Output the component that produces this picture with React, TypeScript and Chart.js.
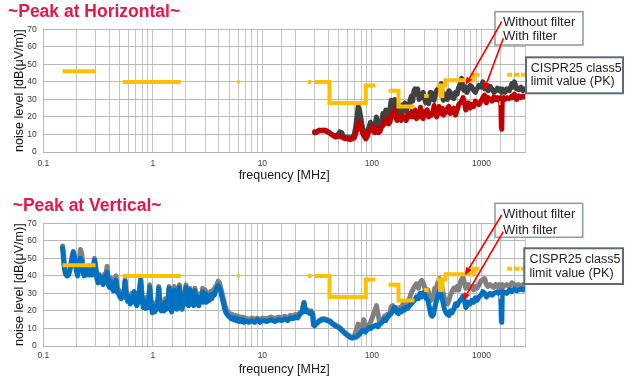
import { useEffect, useRef } from 'react';
import { Chart, registerables } from 'chart.js';

Chart.register(...registerables);

const FONT = '"Liberation Sans", Arial, sans-serif';

// ---------- CISPR25 class 5 limit (PK) ----------
const limFreq = [0.15, 0.3, 0.3, 0.53, 1.8, 1.8, 5.9, 6.2, 6.2, 26, 28, 28,
  30, 41, 41, 88, 88, 108, 108, 142, 175, 175, 245, 245, 300, 330, 330,
  390, 420, 420, 440, 440, 470, 470, 850, 850, 960, 960, 1447, 1494, 1494,
  1720, 1900, 1900, 2000, 2230, 2230, 2300, 2500];
const limLevel = [46, 46, null, 40, 40, null, 40, 40, null, 40, 40, null,
  40, 40, 28, 28, 38, 38, null, 35, 35, 26, 26, null, 32, 32, null,
  38, 38, 32, 32, 38, 38, 41, 41, 44, 44, null, 28, 28, null,
  44, 44, null, 44, 44, null, 44, 44];

// ---------- Peak at Horizontal ----------
const hFreq = [
  30, 31, 33, 35, 37, 39, 41, 43, 45, 47,
  49, 51, 53, 55, 57, 60, 63, 66, 69, 71,
  73, 75, 77, 79, 81, 83, 85, 88, 91, 94,
  97, 100, 103, 106, 110, 114, 118, 122, 126, 130,
  134, 138, 142, 146, 150, 154, 158, 162, 166, 170,
  175, 180, 185, 190, 195, 200, 206, 212, 218, 224,
  230, 236, 242, 248, 255, 262, 270, 278, 286, 294,
  300, 310, 320, 330, 340, 350, 360, 370, 380, 390,
  400, 410, 420, 430, 440, 450, 460, 475, 490, 505,
  520, 540, 560, 580, 600, 620, 640, 660, 680, 700,
  720, 740, 760, 790, 820, 850, 880, 910, 950, 990,
  1030, 1070, 1110, 1150, 1200, 1250, 1300, 1350, 1400, 1450,
  1500, 1520, 1535, 1550, 1600, 1650, 1700, 1800, 1900, 1950,
  2000, 2100, 2200, 2300, 2400, 2500];
const hWithout = [
  11.5, 11, 12, 12.5, 12, 11.5, 11, 10, 9.5, 9,
  10, 11.5, 11, 9, 8, 8.5, 8, 8.5, 10, 14,
  20, 26, 24, 20, 16, 13, 11, 10, 12, 14,
  17, 15, 13, 14, 20, 15, 12, 16, 22, 18,
  24, 20, 21, 24, 29.5, 27, 22, 30, 26, 22,
  25, 24, 22, 27, 24, 28, 23, 27, 26, 30,
  32, 29, 35, 36, 33, 36, 30, 33, 31, 34,
  31.5, 28, 30, 27.5, 34, 34, 30, 29.5, 33, 35,
  36, 35, 38, 39, 33, 29.5, 31, 33, 30, 35,
  34, 31, 30.5, 34, 33, 37, 38.5, 42, 36, 35,
  37, 34, 36, 38, 37, 35, 34, 36, 38, 37,
  40, 36, 37, 35, 37.5, 36, 34, 35, 36.5, 35,
  36, 35, 34, 36, 35, 34, 36, 35, 39, 37,
  40, 36, 35.5, 37, 35, 36];
const hWith = [
  11, 11.5, 12.5, 12, 12.5, 12, 11, 10, 9, 8.5,
  9, 9, 8.5, 8, 7.5, 7.5, 7, 7.5, 8, 10,
  13, 16, 17, 15, 12, 10, 9, 7.5, 9, 12,
  13, 14.5, 12, 11, 14, 11, 11.5, 14, 15, 16,
  19, 17, 16, 17, 20, 22, 21, 24, 19, 18,
  20, 19, 18, 21, 19, 20, 18, 21, 20, 22,
  23, 20, 21, 24, 19, 22, 20, 25.5, 21, 19,
  23, 21, 24, 20, 22, 21, 23, 26.5, 24, 20,
  22, 26, 24, 22, 25, 21, 23, 22.5, 25, 26,
  22, 23, 25, 21, 24, 27, 28, 29, 31, 28,
  24, 26.5, 28, 25, 27, 26, 29, 28, 27, 29,
  31, 32.5, 28, 31, 30, 29, 31.5, 30, 31, 29.5,
  31, 14, 13, 30, 31, 30, 31, 30.5, 32, 31,
  33, 30, 32, 31, 32, 31.5];

// ---------- Peak at Vertical ----------
const vFreq = [
  0.15, 0.153, 0.156, 0.16, 0.165, 0.17, 0.176, 0.182, 0.188, 0.194,
  0.2, 0.206, 0.212, 0.218, 0.224, 0.23, 0.236, 0.242, 0.249, 0.256,
  0.263, 0.27, 0.278, 0.286, 0.294, 0.3, 0.308, 0.316, 0.324, 0.333,
  0.342, 0.352, 0.362, 0.372, 0.382, 0.392, 0.402, 0.413, 0.424, 0.436,
  0.448, 0.461, 0.474, 0.487, 0.5, 0.514, 0.528, 0.543, 0.558, 0.573,
  0.589, 0.605, 0.622, 0.639, 0.657, 0.675, 0.694, 0.713, 0.733, 0.753,
  0.774, 0.795, 0.817, 0.84, 0.863, 0.887, 0.911, 0.936, 0.962, 0.989,
  1.016, 1.044, 1.073, 1.102, 1.133, 1.164, 1.196, 1.229, 1.263, 1.298,
  1.334, 1.37, 1.408, 1.447, 1.487, 1.528, 1.57, 1.613, 1.657, 1.703,
  1.75, 1.798, 1.848, 1.899, 1.951, 2.005, 2.06, 2.117, 2.175, 2.235,
  2.297, 2.36, 2.425, 2.492, 2.56, 2.631, 2.703, 2.778, 2.854, 2.933,
  3.013, 3.096, 3.182, 3.269, 3.359, 3.452, 3.547, 3.644, 3.745, 3.848,
  3.954, 4.063, 4.175, 4.29, 4.408, 4.529, 4.654, 4.782, 4.914, 5.049,
  5.188, 5.331, 5.478, 5.629, 5.784, 5.943, 6.107, 6.275, 6.448, 6.626,
  6.808, 6.996, 7.5, 8, 8.5, 9, 9.5, 10, 11, 12,
  13, 14, 15, 16, 17, 18, 19, 20, 21, 22,
  23, 24, 24.8, 26, 27, 28, 28.8, 29.3, 30, 31,
  33, 35, 37, 39, 41, 43, 45, 48, 51, 54,
  57, 60, 63, 66, 69, 72, 75, 78, 81, 84,
  87, 90, 94, 98, 102, 106, 110, 114, 118, 122,
  126, 130, 134, 138, 142, 146, 150, 155, 160, 165,
  170, 175, 180, 186, 192, 198, 205, 212, 220, 228,
  236, 245, 255, 265, 275, 285, 295, 305, 315, 325,
  335, 345, 355, 365, 375, 385, 395, 405, 415, 425,
  435, 445, 460, 475, 490, 505, 520, 540, 560, 580,
  600, 620, 640, 660, 680, 700, 720, 740, 760, 790,
  820, 850, 880, 910, 950, 990, 1030, 1070, 1110, 1150,
  1200, 1250, 1300, 1350, 1400, 1450, 1500, 1520, 1535, 1550,
  1600, 1700, 1800, 1900, 2000, 2100, 2200, 2300, 2400, 2500];
const vWithout = [
  57, 52, 45, 41, 40, 41, 45, 50, 54, 50,
  44, 41, 47, 55, 53, 46, 42, 45, 43, 45,
  42, 44, 42, 46, 50, 46, 40, 38, 41, 38,
  39, 37, 41, 40, 45.5, 38, 36, 39, 35, 33,
  37, 40, 33, 32, 30, 29, 31, 30, 38, 30,
  27, 29, 26, 30, 27, 31, 28, 24, 27, 31,
  39, 30, 24, 25, 23.5, 28, 24, 35, 26, 21,
  23, 21, 25, 23, 34, 25, 21, 24, 22, 27,
  23, 26, 34, 24, 21, 25, 34, 24, 23, 26,
  35, 25, 23, 27, 29, 35, 26, 24, 33, 26,
  28, 25, 33, 26, 29, 25, 30, 27, 33, 27,
  32, 27, 30, 28, 31, 29, 32, 31, 34, 35,
  37, 36, 33, 30, 27, 24, 21, 20, 19, 18.5,
  17, 18, 16.5, 17.5, 16, 17, 16, 16.5, 15.5, 16.5,
  15, 16, 15, 16, 15, 16, 15, 16, 15.5, 16.5,
  15.5, 16.5, 16, 17, 16, 17.5, 17, 18, 17.5, 19,
  20, 25, 20, 20.5, 19.5, 20, 19, 13, 12, 13,
  14.5, 15.5, 15.5, 15, 14.5, 13.5, 12.5, 11.5, 10.5, 9,
  7.5, 6.5, 5.5, 5, 5.5, 9, 12.5, 9, 10, 15,
  11, 10, 12, 14, 17, 20, 23, 18, 13, 14,
  15, 17, 16, 18, 17, 19, 22.5, 23, 21, 22,
  20, 21, 22, 21, 24, 22.5, 24, 23, 27, 30,
  32, 34, 35.5, 33, 36, 37.5, 36, 33, 30, 32,
  28, 26, 27, 29, 33, 32, 35, 37, 38.5, 37,
  34, 31, 27, 25, 24, 26, 29, 31, 33, 32,
  34, 32, 36, 38, 39.5, 36, 33, 34, 35, 33,
  34, 32, 34, 33, 35, 37, 38, 38.5, 35, 34,
  35, 34, 33.5, 35, 34, 35, 34.5, 33, 34, 35,
  34, 35, 34, 36, 35, 34.5, 35, 34, 35, 34.5];
const vWith = [
  56, 50, 44, 41, 40, 40.5, 44, 49, 53.5, 50,
  43, 40, 45, 50, 49, 42.5, 40, 43.5, 40.5, 44,
  40.5, 42, 40.5, 44, 49, 45, 38.5, 36, 40, 36.5,
  38, 35, 39.5, 37, 42, 35, 33.5, 37, 33, 31.5,
  34, 37.5, 30.5, 30, 28, 27, 30, 28, 37, 28,
  25.5, 28, 24, 28, 25, 31, 26, 23, 25, 30,
  37.5, 28, 22, 23, 21.5, 26, 22, 33.5, 25, 19,
  21, 19.5, 23, 21, 33, 23, 20, 22, 20, 25,
  21, 23, 33, 22, 19.5, 23, 32, 22, 21, 24,
  33.5, 22, 21, 25, 27, 33.5, 24, 23, 32, 24,
  26, 23, 31.5, 24, 27, 23, 28, 25, 31, 25,
  30, 25, 28, 26, 29, 27, 29.5, 29, 31.5, 33,
  34.5, 33, 31, 27.5, 24.5, 21, 19, 18, 17, 16.5,
  15.5, 16, 15, 16, 14.5, 15.5, 14, 15, 14, 15,
  13.5, 14.5, 13.5, 14.5, 13.5, 15, 13.5, 14.5, 14, 15,
  14, 15, 14.5, 15.5, 14.5, 16, 15.5, 16.5, 16, 18,
  19, 24.5, 19.5, 19.5, 18.5, 19, 18, 12, 11.5, 12.5,
  14, 15, 15, 14.5, 14, 13, 12, 11, 10, 8.5,
  7, 6, 5, 4.5, 5, 5, 6, 7, 8.5, 9,
  8, 9, 10.5, 10, 11, 11.5, 12, 11, 12.5, 13,
  14, 15.5, 14.5, 16, 17, 18, 18.5, 20, 22, 21,
  19, 18.5, 20, 19.5, 21, 20.5, 22, 21.5, 23, 24,
  25, 26, 28, 27, 30, 28, 30.5, 29, 27, 26,
  22, 18, 17, 18, 22, 25, 27, 30, 31.5, 29,
  28.5, 25, 21, 19, 18, 17.5, 20, 19, 21, 24,
  23, 25, 26, 27, 28.5, 26, 22, 23, 25, 24,
  26, 25, 27.5, 26, 28, 29, 31, 30, 28, 29,
  30, 29, 30, 30.5, 31, 30, 31, 14, 13.5, 30.5,
  31, 30, 32, 31, 32.5, 31.5, 32, 32.5, 32, 32.5];

const xTickLabel = (val: any) => {
  const v = Number(val);
  const l = Math.log10(v);
  if (Math.abs(l - Math.round(l)) < 1e-6) return v < 1 ? v.toFixed(1) : String(Math.round(v));
  return '';
};

type Box = { x: number; y: number; w: number; h: number; color: string; lw: number };
type Note = { left: number; top: number; lh: number; size: number; lines: string[] };
type Arrow = { sx: number; sy: number; f: number; v: number };
type Spec = {
  top: number; height: number; title: string; titleLeft: number; titleTop: number;
  freq: number[]; without: number[]; withF: number[];
  withoutColor: string; withColor: string;
  xTickPad: number; xTitlePad: number;
  boxes: Box[]; notes: Note[]; arrows: Arrow[];
};

function Panel({ spec }: { spec: Spec }) {
  const ref = useRef<HTMLCanvasElement>(null);
  useEffect(() => {
    const H = spec.height;
    const notesPlugin = {
      id: 'notes',
      afterDraw(chart: any) {
        const { ctx, scales } = chart;
        ctx.save();
        for (const b of spec.boxes) {
          ctx.fillStyle = '#ffffff';
          ctx.fillRect(b.x, b.y, b.w, b.h);
          ctx.strokeStyle = b.color;
          ctx.lineWidth = b.lw;
          ctx.strokeRect(b.x, b.y, b.w, b.h);
        }
        ctx.strokeStyle = '#ff0000';
        ctx.fillStyle = '#ff0000';
        ctx.lineWidth = 1.6;
        for (const a of spec.arrows) {
          const tx = scales.x.getPixelForValue(a.f);
          const ty = scales.y.getPixelForValue(a.v);
          const ang = Math.atan2(ty - a.sy, tx - a.sx);
          const hl = 8, hw = 3.2;
          const bx = tx - hl * Math.cos(ang), by = ty - hl * Math.sin(ang);
          ctx.beginPath();
          ctx.moveTo(a.sx, a.sy);
          ctx.lineTo(bx, by);
          ctx.stroke();
          ctx.beginPath();
          ctx.moveTo(tx, ty);
          ctx.lineTo(bx + hw * Math.sin(ang), by - hw * Math.cos(ang));
          ctx.lineTo(bx - hw * Math.sin(ang), by + hw * Math.cos(ang));
          ctx.closePath();
          ctx.fill();
        }
        ctx.restore();
      },
    };
    const line = (color: string, w: number) => ({
      borderColor: color, backgroundColor: color, borderWidth: w, pointRadius: 0,
      tension: 0, fill: false, borderJoinStyle: 'round', borderCapStyle: 'round',
    });
    const chart = new Chart(ref.current as HTMLCanvasElement, {
      type: 'line',
      data: {
        datasets: [
          {
            label: 'CISPR25 class5 limit value (PK)',
            data: limFreq.map((f, i) => ({ x: f, y: limLevel[i] })),
            ...line('#ffc000', 4),
            borderJoinStyle: 'miter', borderCapStyle: 'butt', spanGaps: false,
          },
          {
            label: 'With filter',
            data: spec.freq.map((f, i) => ({ x: f, y: spec.withF[i] })),
            ...line(spec.withColor, 5),
          },
          {
            label: 'Without filter',
            data: spec.freq.map((f, i) => ({ x: f, y: spec.without[i] })),
            ...line(spec.withoutColor, 5),
          },
        ],
      } as any,
      options: {
        responsive: false,
        animation: false,
        devicePixelRatio: 1,
        events: [],
        layout: { padding: { top: 29.3, right: 100, left: 0, bottom: 0 } },
        plugins: { legend: { display: false }, tooltip: { enabled: false }, title: { display: false } },
        scales: {
          x: {
            type: 'logarithmic', position: 'bottom', min: 0.1, max: 2500,
            grid: { color: '#c4c4c4', lineWidth: 1, drawTicks: false },
            border: { color: '#b5b5b5' },
            ticks: {
              autoSkip: false, maxRotation: 0, minRotation: 0, padding: spec.xTickPad,
              font: { family: FONT, size: 8.5 }, color: '#3a3a3a', callback: xTickLabel,
            },
            title: {
              display: true, text: 'frequency [MHz]', color: '#1a1a1a',
              font: { family: FONT, size: 12.5 }, padding: { top: 0, bottom: spec.xTitlePad },
            },
            afterFit: (s: any) => { s.height = H - 152; },
          },
          y: {
            type: 'linear', min: 0, max: 70,
            grid: { color: '#b8b8b8', lineWidth: 1, drawTicks: false },
            border: { color: '#b5b5b5' },
            ticks: { stepSize: 10, padding: 6.5, font: { family: FONT, size: 8.5 }, color: '#3a3a3a' },
            title: {
              display: true, text: 'noise level [dB(μV/m)]', color: '#111111',
              font: { family: FONT, size: 12.5 }, padding: { top: 12, bottom: 0 },
            },
            afterFit: (s: any) => { s.width = 43.3; },
          },
        },
      } as any,
      plugins: [notesPlugin],
    });
    return () => chart.destroy();
  }, []);

  return (
    <div style={{ position: 'absolute', left: 0, top: spec.top, width: 625, height: spec.height }}>
      <canvas ref={ref} width={625} height={spec.height} style={{ display: 'block' }} />
      <div
        style={{
          position: 'absolute', left: spec.titleLeft, top: spec.titleTop, fontFamily: FONT,
          fontWeight: 'bold', fontSize: 17.5, lineHeight: '20px', color: '#e8174b', whiteSpace: 'nowrap',
        }}
      >
        {spec.title}
      </div>
      {spec.notes.map((n, i) => (
        <div
          key={i}
          style={{
            position: 'absolute', left: n.left, top: n.top, fontFamily: FONT, fontSize: n.size,
            lineHeight: n.lh + 'px', color: '#222222', whiteSpace: 'nowrap', pointerEvents: 'none',
          }}
        >
          {n.lines.map((t, j) => (<div key={j}>{t}</div>))}
        </div>
      ))}
    </div>
  );
}

const topSpec: Spec = {
  top: 0, height: 190, title: '~Peak at Horizontal~', titleLeft: 8, titleTop: 1.2,
  freq: hFreq, without: hWithout, withF: hWith, withoutColor: '#404040', withColor: '#c00000',
  xTickPad: 6.3, xTitlePad: 6.8,
  boxes: [
    { x: 495, y: 11.7, w: 88, h: 33.3, color: '#8a99a6', lw: 1.5 },
    { x: 526, y: 57.3, w: 97, h: 36, color: '#5b6b79', lw: 2 },
  ],
  notes: [
    { left: 503, top: 14.7, lh: 14, size: 13, lines: ['Without filter', 'With filter'] },
    { left: 530.7, top: 61.6, lh: 13.4, size: 12.5, lines: ['CISPR25 class5', 'limit value (PK)'] },
  ],
  arrows: [
    { sx: 501.7, sy: 21.7, f: 715, v: 38.1 },
    { sx: 503.3, sy: 38.3, f: 1057, v: 35.3 },
  ],
};

const bottomSpec: Spec = {
  top: 194, height: 186, title: '~Peak at Vertical~', titleLeft: 12.7, titleTop: 0.6,
  freq: vFreq, without: vWithout, withF: vWith, withoutColor: '#808080', withColor: '#0070c0',
  xTickPad: 4.2, xTitlePad: 2.8,
  boxes: [
    { x: 495, y: 9.3, w: 87.7, h: 34, color: '#8a99a6', lw: 1.5 },
    { x: 524.3, y: 54.3, w: 98.7, h: 35.7, color: '#5b6b79', lw: 2 },
  ],
  notes: [
    { left: 503, top: 12.4, lh: 15.3, size: 13, lines: ['Without filter', 'With filter'] },
    { left: 529.5, top: 59.4, lh: 13.3, size: 12.5, lines: ['CISPR25 class5', 'limit value (PK)'] },
  ],
  arrows: [
    { sx: 501.7, sy: 21, f: 705, v: 40.3 },
    { sx: 503.3, sy: 37.7, f: 681, v: 26 },
  ],
};

export default function App() {
  return (
    <div style={{ position: 'fixed', left: 0, top: 0, width: 625, height: 380, background: '#ffffff', overflow: 'hidden' }}>
      <Panel spec={topSpec} />
      <Panel spec={bottomSpec} />
    </div>
  );
}
